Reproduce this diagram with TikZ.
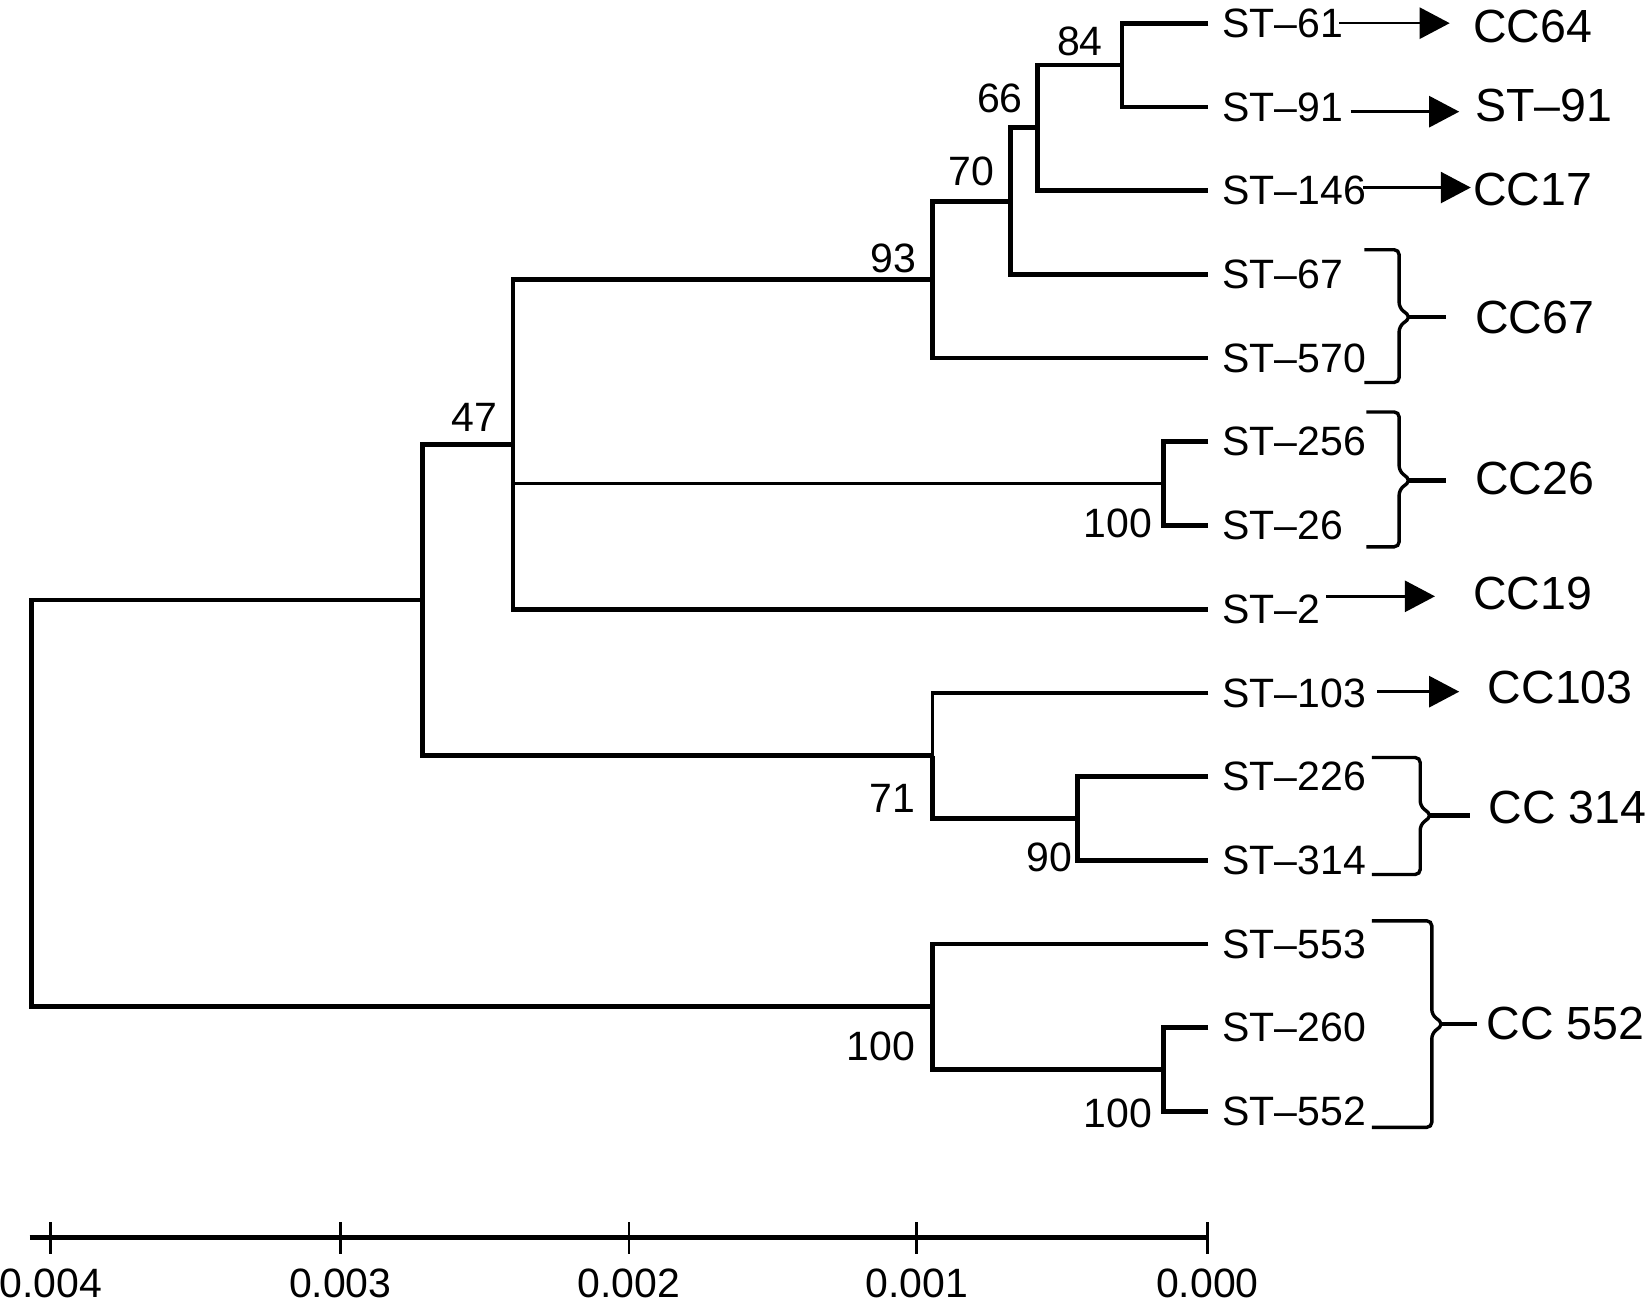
\documentclass[tikz,border=0pt]{standalone}
\usepackage{fontspec}
\setmainfont{Liberation Sans}
\usetikzlibrary{arrows.meta}
\newcommand\ccbrace[6]{%
  \draw[brc] (#1,#3) -- (#2,#3) -- (#2,#4-9) -- (#2+11,#4) -- (#2,#4+9) -- (#2,#5) -- (#1,#5);
  \draw[tailline] (#2+9,#4) -- (#6,#4);}
\begin{document}
\begin{tikzpicture}[x=1.0536pt,y=-1.0536pt,
  br/.style={line width=4.8pt,line join=miter},
  brt/.style={line width=3.6pt,line join=miter},
  leaf/.style={anchor=west,inner sep=0pt,font=\fontsize{41}{48}\selectfont},
  boot/.style={inner sep=0pt,font=\fontsize{41}{48}\selectfont},
  cc/.style={anchor=west,inner sep=0pt,font=\fontsize{46.5}{54}\selectfont},
  arr/.style={line width=2.6pt,-{Triangle[length=30pt,width=31pt]}},
  brc/.style={line width=3.4pt,rounded corners=5pt},
  tailline/.style={line width=4.4pt},
  tick/.style={line width=2.8pt},
  scl/.style={inner sep=0pt,font=\fontsize{41}{48}\selectfont}]
\useasboundingbox (0,0) rectangle (1568,1241);

% leaf ends and labels
\coordinate (e61) at (1147,22);     \node[leaf] (t61) at (1160,22) {ST–61};
\coordinate (e91) at (1147,101.5);  \node[leaf] (t91) at (1160,101.5) {ST–91};
\coordinate (e146) at (1147,180.9); \node[leaf] (t146) at (1160,180.9) {ST–146};
\coordinate (e67) at (1147,260.4);  \node[leaf] (t67) at (1160,260.4) {ST–67};
\coordinate (e570) at (1147,339.8); \node[leaf] (t570) at (1160,339.8) {ST–570};
\coordinate (e256) at (1147,419.3); \node[leaf] (t256) at (1160,419.3) {ST–256};
\coordinate (e26) at (1147,498.8);  \node[leaf] (t26) at (1160,498.8) {ST–26};
\coordinate (e2) at (1147,578.2);   \node[leaf] (t2) at (1160,578.2) {ST–2};
\coordinate (e103) at (1147,657.7); \node[leaf] (t103) at (1160,657.7) {ST–103};
\coordinate (e226) at (1147,737.1); \node[leaf] (t226) at (1160,737.1) {ST–226};
\coordinate (e314) at (1147,816.6); \node[leaf] (t314) at (1160,816.6) {ST–314};
\coordinate (e553) at (1147,896);   \node[leaf] (t553) at (1160,896) {ST–553};
\coordinate (e260) at (1147,975.5); \node[leaf] (t260) at (1160,975.5) {ST–260};
\coordinate (e552) at (1147,1055);  \node[leaf] (t552) at (1160,1055) {ST–552};

% internal nodes
\coordinate (n84) at (1065,61.75);
\coordinate (n66) at (985,121.3);
\coordinate (n70) at (959,190.9);
\coordinate (n93) at (885,265.4);
\coordinate (n26) at (1104,459);
\coordinate (n47) at (487,421.8);
\coordinate (n90) at (1023,776.9);
\coordinate (n71) at (885,717.3);
\coordinate (nA) at (401,569.5);
\coordinate (n100b) at (1104,1015.3);
\coordinate (n552) at (885,955.6);
\coordinate (root) at (30,762.6);

% branches
\draw[br] (e61) -| (n84) |- (e91);
\draw[br] (n84) -| (n66) |- (e146);
\draw[br] (n66) -| (n70) |- (e67);
\draw[br] (n70) -| (n93) |- (e570);
\draw[br] (e256) -| (n26) |- (e26);
\draw[br] (n93) -| (n47) |- (e2);
\draw[brt] (n26) -- (n26 -| n47);
\draw[br] (n47) -| (nA) |- (n71);
\draw[brt] (e103) -| (n71);
\draw[br] (n71) |- (n90);
\draw[br] (e226) -| (n90) |- (e314);
\draw[br] (nA) -| (root) |- (n552);
\draw[br] (e553) -| (n552) |- (n100b);
\draw[br] (e260) -| (n100b) |- (e552);

% bootstrap values
\node[boot] (b84) at (1025,39.5) {84};
\node[boot] (b66) at (949,93) {66};
\node[boot] (b70) at (922,163) {70};
\node[boot] (b93) at (848,245) {93};
\node[boot] (b47) at (450,396) {47};
\node[boot] (b100a) at (1061,497) {100};
\node[boot] (b71) at (847,758) {71};
\node[boot] (b90) at (996,814) {90};
\node[boot] (b100c) at (836,993) {100};
\node[boot] (b100d) at (1061,1057) {100};

% arrows
\coordinate (a61s) at (1271,22);    \coordinate (a61t) at (1376,22);
\coordinate (a91s) at (1282,106);   \coordinate (a91t) at (1385,106);
\coordinate (a146s) at (1294,178);  \coordinate (a146t) at (1396,178);
\coordinate (a2s) at (1259,566);    \coordinate (a2t) at (1362,566);
\coordinate (a103s) at (1307,656.5);\coordinate (a103t) at (1385,656.5);
\draw[arr] (a61s) -- (a61t);
\draw[arr] (a91s) -- (a91t);
\draw[arr] (a146s) -- (a146t);
\draw[arr] (a2s) -- (a2t);
\draw[arr] (a103s) -- (a103t);

% clonal complex labels
\node[cc] (c64) at (1398,25) {CC64};
\node[cc] (c91) at (1400,100) {ST–91};
\node[cc] (c17) at (1398,180) {CC17};
\node[cc] (c67) at (1400,301) {CC67};
\node[cc] (c26) at (1400,454) {CC26};
\node[cc] (c19) at (1398,563) {CC19};
\node[cc] (c103) at (1412,653) {CC103};
\node[cc] (c314) at (1413,766) {CC 314};
\node[cc] (c552) at (1411,971) {CC 552};

% braces
\ccbrace{1295}{1328}{237}{301}{363}{1372}
\ccbrace{1297}{1328}{391}{456}{519}{1372}
\ccbrace{1302}{1348}{719}{774}{830}{1395}
\ccbrace{1302}{1359}{874}{972}{1070}{1402}

% scale bar
\coordinate (sL) at (28,1175);
\coordinate (s4) at (48,1175);
\coordinate (s3) at (323,1175);
\coordinate (s2) at (597,1175);
\coordinate (s1) at (870,1175);
\coordinate (s0) at (1146,1175);
\draw[line width=5pt] (sL) -- (s0);
\foreach \t in {s4,s3,s2,s1,s0} \draw[tick] (\t) ++(0,-15) -- ++(0,30);
\node[scl] (l4) at (48,1218) {0.004};
\node[scl] (l3) at (323,1218) {0.003};
\node[scl] (l2) at (597,1218) {0.002};
\node[scl] (l1) at (870,1218) {0.001};
\node[scl] (l0) at (1146,1218) {0.000};
\end{tikzpicture}
\end{document}
